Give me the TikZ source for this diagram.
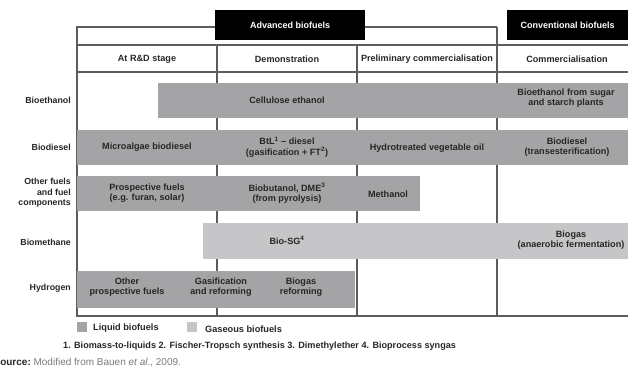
\documentclass[tikz,border=0pt]{standalone}
\usepackage{fontspec}
\setmainfont{Liberation Sans}
\definecolor{liqgray}{HTML}{A4A4A6}
\definecolor{gasgray}{HTML}{C6C6C8}
\definecolor{linegray}{HTML}{5C5C5C}
\definecolor{textcol}{HTML}{262626}
\definecolor{srcgray}{HTML}{7A7A7A}
\begin{document}
\begin{tikzpicture}[x=1pt,y={(0pt,-1pt)},
  gridline/.style={draw=linegray, line width=1.3pt},
  barnode/.style={draw=none, inner sep=0pt, anchor=north west},
  liq/.style={barnode, fill=liqgray},
  gas/.style={barnode, fill=gasgray},
  lbl/.style={font=\fontsize{9.1}{10.3}\selectfont\bfseries, text=textcol, align=center, inner sep=0pt},
  rowlbl/.style={lbl, font=\fontsize{8.8}{10.5}\selectfont\bfseries, align=right, anchor=east},
  headbox/.style={fill=black, text=white, font=\fontsize{9}{10}\selectfont\bfseries, inner sep=0pt, anchor=north west}
]
\useasboundingbox (0,0) rectangle (628,369);
% grid corners
\coordinate (tl) at (77,27);
\coordinate (tr) at (497,27);
\coordinate (h1l) at (77,45);
\coordinate (h1r) at (628,45);
\coordinate (h2l) at (77,72);
\coordinate (h2r) at (628,72);
\coordinate (bl) at (77,316);
\coordinate (br) at (628,316);
\coordinate (c1t) at (217,45);
\coordinate (c1b) at (217,316);
\coordinate (c2t) at (357,45);
\coordinate (c2b) at (357,316);
\coordinate (c3t) at (497,27);
\coordinate (c3b) at (497,316);
\draw[gridline] (tr) -- (tl) -- (bl) -- (br);
\draw[gridline] (h1l) -- (h1r);
\draw[gridline] (h2l) -- (h2r);
\draw[gridline] (c1t) -- (c1b);
\draw[gridline] (c2t) -- (c2b);
\draw[gridline] (c3t) -- (c3b);
% header boxes
\node[headbox, minimum width=150pt, minimum height=30pt] (adv) at (215,10) {Advanced biofuels};
\node[headbox, minimum width=121pt, minimum height=30pt] (conv) at (507,10) {Conventional biofuels};
% column headers
\node[lbl] (rd) at (147,59) {At R\&D stage};
\node[lbl] (demo) at (287,59) {Demonstration};
\node[lbl] (prelim) at (427,59) {Preliminary commercialisation};
\node[lbl] (comm) at (567,59) {Commercialisation};
% bars
\node[liq, minimum width=470pt, minimum height=35pt] (b1) at (158,83) {};
\node[liq, minimum width=551pt, minimum height=35pt] (b2) at (77,130) {};
\node[liq, minimum width=343pt, minimum height=35pt] (b3) at (77,176) {};
\node[gas, minimum width=425pt, minimum height=36pt] (b4) at (203,223) {};
\node[liq, minimum width=278pt, minimum height=37pt] (b5) at (77,271) {};
% row labels
\node[rowlbl] (r1) at (71,100) {Bioethanol};
\node[rowlbl] (r2) at (71,147) {Biodiesel};
\node[rowlbl] (r3) at (71,193) {Other fuels\\and fuel\\components};
\node[rowlbl] (r4) at (71,242) {Biomethane};
\node[rowlbl] (r5) at (71,288) {Hydrogen};
% bar texts
\node[lbl] (t11) at (287,100) {Cellulose ethanol};
\node[lbl] (t12) at (566,98) {Bioethanol from sugar\\and starch plants};
\node[lbl] (t21) at (147,147) {Microalgae biodiesel};
\node[lbl] (t22) at (287,147) {BtL\textsuperscript{1} -- diesel\\(gasification + FT\textsuperscript{2})};
\node[lbl] (t23) at (427,148) {Hydrotreated vegetable oil};
\node[lbl] (t24) at (567,147) {Biodiesel\\(transesterification)};
\node[lbl] (t31) at (147,193) {Prospective fuels\\(e.g. furan, solar)};
\node[lbl] (t32) at (287,193) {Biobutanol, DME\textsuperscript{3}\\(from pyrolysis)};
\node[lbl] (t33) at (388,194) {Methanol};
\node[lbl] (t41) at (287,240) {Bio-SG\textsuperscript{4}};
\node[lbl] (t42) at (571,240) {Biogas\\(anaerobic fermentation)};
\node[lbl] (t51) at (127,287) {Other\\prospective fuels};
\node[lbl] (t52) at (221,287) {Gasification\\and reforming};
\node[lbl] (t53) at (301,287) {Biogas\\reforming};
% legend
\node[liq, minimum width=10pt, minimum height=10pt] (lg1) at (77,322) {};
\node[lbl, anchor=west] (lg1t) at (93,328) {\fontsize{9.2}{10}\selectfont Liquid biofuels};
\node[gas, minimum width=10pt, minimum height=10pt] (lg2) at (187,322) {};
\node[lbl, anchor=west] (lg2t) at (205,329) {\fontsize{9.2}{10}\selectfont Gaseous biofuels};
% footnote
\node[lbl, anchor=west] (fn) at (63,346) {1. Biomass-to-liquids 2. Fischer-Tropsch synthesis 3. Dimethylether 4. Bioprocess syngas};
% source
\node[lbl, anchor=west] (src) at (-6.6,363) {\fontsize{10}{11}\selectfont Source:\ \mdseries\color{srcgray}Modified from Bauen \textit{et al}., 2009.};
\end{tikzpicture}
\end{document}
